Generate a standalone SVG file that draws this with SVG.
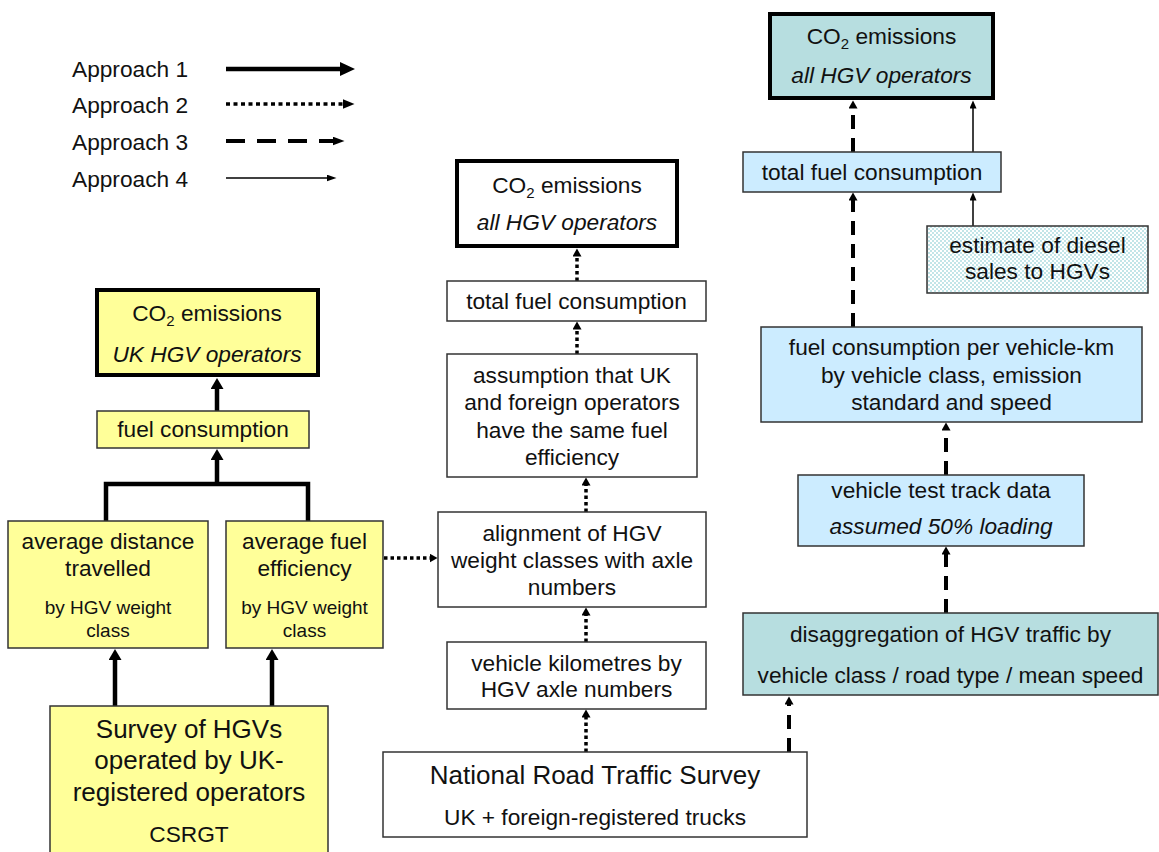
<svg xmlns="http://www.w3.org/2000/svg" width="1159" height="852" viewBox="0 0 1159 852">
<defs>
<style>
text{font-family:"Liberation Sans",Arial,sans-serif;font-size:22.7px;fill:#111;text-anchor:middle}
.it{font-style:italic}
.sm{font-size:19px}
.lg{font-size:26px}
.leg{text-anchor:start}
.thin{stroke:#333;stroke-width:1.5}
.thick{stroke:#000;stroke-width:4}
.yel{fill:#FFFF99}
.blu{fill:#CCECFF}
.tea{fill:#B7DEE0}
.wht{fill:#fff}
.a1{stroke:#000;stroke-width:4.5;fill:none}
.a2{stroke:#000;stroke-width:3.5;stroke-dasharray:3.5,3;fill:none}
.a3{stroke:#000;stroke-width:4;stroke-dasharray:14,9;fill:none}
.a4{stroke:#000;stroke-width:1.5;fill:none}
</style>
<pattern id="chk" width="4" height="4" patternUnits="userSpaceOnUse">
<rect width="4" height="4" fill="#fff"/>
<rect width="2" height="2" fill="#C2E5E8"/>
<rect x="2" y="2" width="2" height="2" fill="#C2E5E8"/>
</pattern>
<marker id="h1" markerUnits="userSpaceOnUse" markerWidth="12" markerHeight="14" refX="1" refY="6.5" orient="auto"><path d="M0,0 L11,6.5 L0,13 z" fill="#000"/></marker>
<marker id="h2" markerUnits="userSpaceOnUse" markerWidth="10" markerHeight="10" refX="0.5" refY="4.5" orient="auto"><path d="M0,0 L8,4.5 L0,9 z" fill="#000"/></marker>
<marker id="h3" markerUnits="userSpaceOnUse" markerWidth="10" markerHeight="10" refX="0.5" refY="4.5" orient="auto"><path d="M0,0 L8,4.5 L0,9 z" fill="#000"/></marker>
<marker id="h4" markerUnits="userSpaceOnUse" markerWidth="10" markerHeight="8" refX="0.5" refY="3.5" orient="auto"><path d="M0,0 L8,3.5 L0,7 z" fill="#000"/></marker>
<marker id="L1" markerUnits="userSpaceOnUse" markerWidth="16" markerHeight="15" refX="1" refY="7" orient="auto"><path d="M0,0 L15,7 L0,14 z" fill="#000"/></marker>
<marker id="L2" markerUnits="userSpaceOnUse" markerWidth="13" markerHeight="11" refX="0.5" refY="5" orient="auto"><path d="M0,0 L12,5 L0,10 z" fill="#000"/></marker>
<marker id="L3" markerUnits="userSpaceOnUse" markerWidth="13" markerHeight="10" refX="0.5" refY="4.5" orient="auto"><path d="M0,0 L12,4.5 L0,9 z" fill="#000"/></marker>
<marker id="L4" markerUnits="userSpaceOnUse" markerWidth="11" markerHeight="8" refX="0.5" refY="3.5" orient="auto"><path d="M0,0 L10,3.5 L0,7 z" fill="#000"/></marker>
</defs>
<rect width="1159" height="852" fill="#fff"/>

<g id="legend">
<text class="leg" x="72" y="77">Approach 1</text>
<text class="leg" x="72" y="113">Approach 2</text>
<text class="leg" x="72" y="150">Approach 3</text>
<text class="leg" x="72" y="187">Approach 4</text>
<path class="a1" d="M226,69 H341" marker-end="url(#L1)"/>
<path d="M226,104 H343" style="stroke:#000;stroke-width:3.5;stroke-dasharray:4,3.5;fill:none" marker-end="url(#L2)"/>
<path d="M226,141 H333" style="stroke:#000;stroke-width:4;stroke-dasharray:19,12;fill:none" marker-end="url(#L3)"/>
<path class="a4" d="M226,178 H327" marker-end="url(#L4)"/>
</g>

<g id="connectors">
<path class="a1" d="M115,706 V659" marker-end="url(#h1)"/>
<path class="a1" d="M272,706 V659" marker-end="url(#h1)"/>
<path class="a1" d="M106,521 V484 H308 V521"/>
<path class="a1" d="M217,484 V459" marker-end="url(#h1)"/>
<path class="a1" d="M217,411 V388" marker-end="url(#h1)"/>
<path class="a2" d="M384,558 H430" marker-end="url(#h2)"/>
<path class="a2" d="M586,752 V717" marker-end="url(#h2)"/>
<path class="a2" d="M586,642 V615" marker-end="url(#h2)"/>
<path class="a2" d="M586,512 V485" marker-end="url(#h2)"/>
<path class="a2" d="M577,354 V329" marker-end="url(#h2)"/>
<path class="a2" d="M577,281 V256" marker-end="url(#h2)"/>
<path class="a3" d="M789,752 V704" marker-end="url(#h3)"/>
<path class="a3" d="M946,613 V554" marker-end="url(#h3)"/>
<path class="a3" d="M946,475 V430" marker-end="url(#h3)"/>
<path class="a3" d="M853,327 V200" marker-end="url(#h3)"/>
<path class="a3" d="M853,152 V108" marker-end="url(#h3)"/>
<path class="a4" d="M973,226 V200" marker-end="url(#h4)"/>
<path class="a4" d="M973,152 V108" marker-end="url(#h4)"/>
</g>

<g id="co2-uk">
<rect class="yel thick" x="97" y="290" width="221" height="85"/>
<text x="207" y="321">CO<tspan font-size="15" dy="5">2</tspan><tspan dy="-5"> emissions</tspan></text>
<text class="it" x="207" y="362">UK HGV operators</text>
</g>
<g id="fuel-consumption">
<rect class="yel thin" x="97" y="411" width="212" height="37"/>
<text x="203" y="437">fuel consumption</text>
</g>
<g id="avg-distance">
<rect class="yel thin" x="8" y="521" width="200" height="127"/>
<text x="108" y="549">average distance</text>
<text x="108" y="576">travelled</text>
<text class="sm" x="108" y="614">by HGV weight</text>
<text class="sm" x="108" y="637">class</text>
</g>
<g id="avg-fuel-eff">
<rect class="yel thin" x="226" y="521" width="157" height="127"/>
<text x="304.5" y="549">average fuel</text>
<text x="304.5" y="576">efficiency</text>
<text class="sm" x="304.5" y="614">by HGV weight</text>
<text class="sm" x="304.5" y="637">class</text>
</g>
<g id="survey">
<rect class="yel thin" x="50" y="706" width="278" height="160"/>
<text class="lg" x="189" y="738">Survey of HGVs</text>
<text class="lg" x="189" y="769">operated by UK-</text>
<text class="lg" x="189" y="801">registered operators</text>
<text x="189" y="842">CSRGT</text>
</g>

<g id="co2-all-mid">
<rect class="wht thick" x="457" y="161" width="220" height="85"/>
<text x="567" y="193">CO<tspan font-size="15" dy="5">2</tspan><tspan dy="-5"> emissions</tspan></text>
<text class="it" x="567" y="230">all HGV operators</text>
</g>
<g id="total-fuel-mid">
<rect class="wht thin" x="447" y="281" width="259" height="40"/>
<text x="576.5" y="309">total fuel consumption</text>
</g>
<g id="assumption">
<rect class="wht thin" x="447" y="354" width="250" height="123"/>
<text x="572" y="383">assumption that UK</text>
<text x="572" y="410">and foreign operators</text>
<text x="572" y="438">have the same fuel</text>
<text x="572" y="465">efficiency</text>
</g>
<g id="alignment">
<rect class="wht thin" x="438" y="512" width="268" height="95"/>
<text x="572" y="541">alignment of HGV</text>
<text x="572" y="568">weight classes with axle</text>
<text x="572" y="595">numbers</text>
</g>
<g id="vehicle-km">
<rect class="wht thin" x="447" y="642" width="259" height="67"/>
<text x="576.5" y="671">vehicle kilometres by</text>
<text x="576.5" y="697">HGV axle numbers</text>
</g>
<g id="nrts">
<rect class="wht thin" x="383" y="752" width="424" height="85"/>
<text class="lg" x="595" y="784">National Road Traffic Survey</text>
<text x="595" y="825">UK + foreign-registered trucks</text>
</g>

<g id="co2-all-right">
<rect class="tea thick" x="770" y="14" width="223" height="84"/>
<text x="881.5" y="44">CO<tspan font-size="15" dy="5">2</tspan><tspan dy="-5"> emissions</tspan></text>
<text class="it" x="881.5" y="83">all HGV operators</text>
</g>
<g id="total-fuel-right">
<rect class="blu thin" x="743" y="152" width="258" height="40"/>
<text x="872" y="180">total fuel consumption</text>
</g>
<g id="diesel-sales">
<rect class="thin" fill="url(#chk)" x="927" y="226" width="221" height="67"/>
<text x="1037.5" y="253">estimate of diesel</text>
<text x="1037.5" y="279">sales to HGVs</text>
</g>
<g id="fuel-per-vkm">
<rect class="blu thin" x="761" y="327" width="381" height="95"/>
<text x="951.5" y="355">fuel consumption per vehicle-km</text>
<text x="951.5" y="383">by vehicle class, emission</text>
<text x="951.5" y="410">standard and speed</text>
</g>
<g id="test-track">
<rect class="blu thin" x="798" y="475" width="286" height="71"/>
<text x="941" y="498">vehicle test track data</text>
<text class="it" x="941" y="534">assumed 50% loading</text>
</g>
<g id="disaggregation">
<rect class="tea thin" x="743" y="613" width="415" height="82"/>
<text x="950.5" y="642">disaggregation of HGV traffic by</text>
<text x="950.5" y="683">vehicle class / road type / mean speed</text>
</g>
</svg>
